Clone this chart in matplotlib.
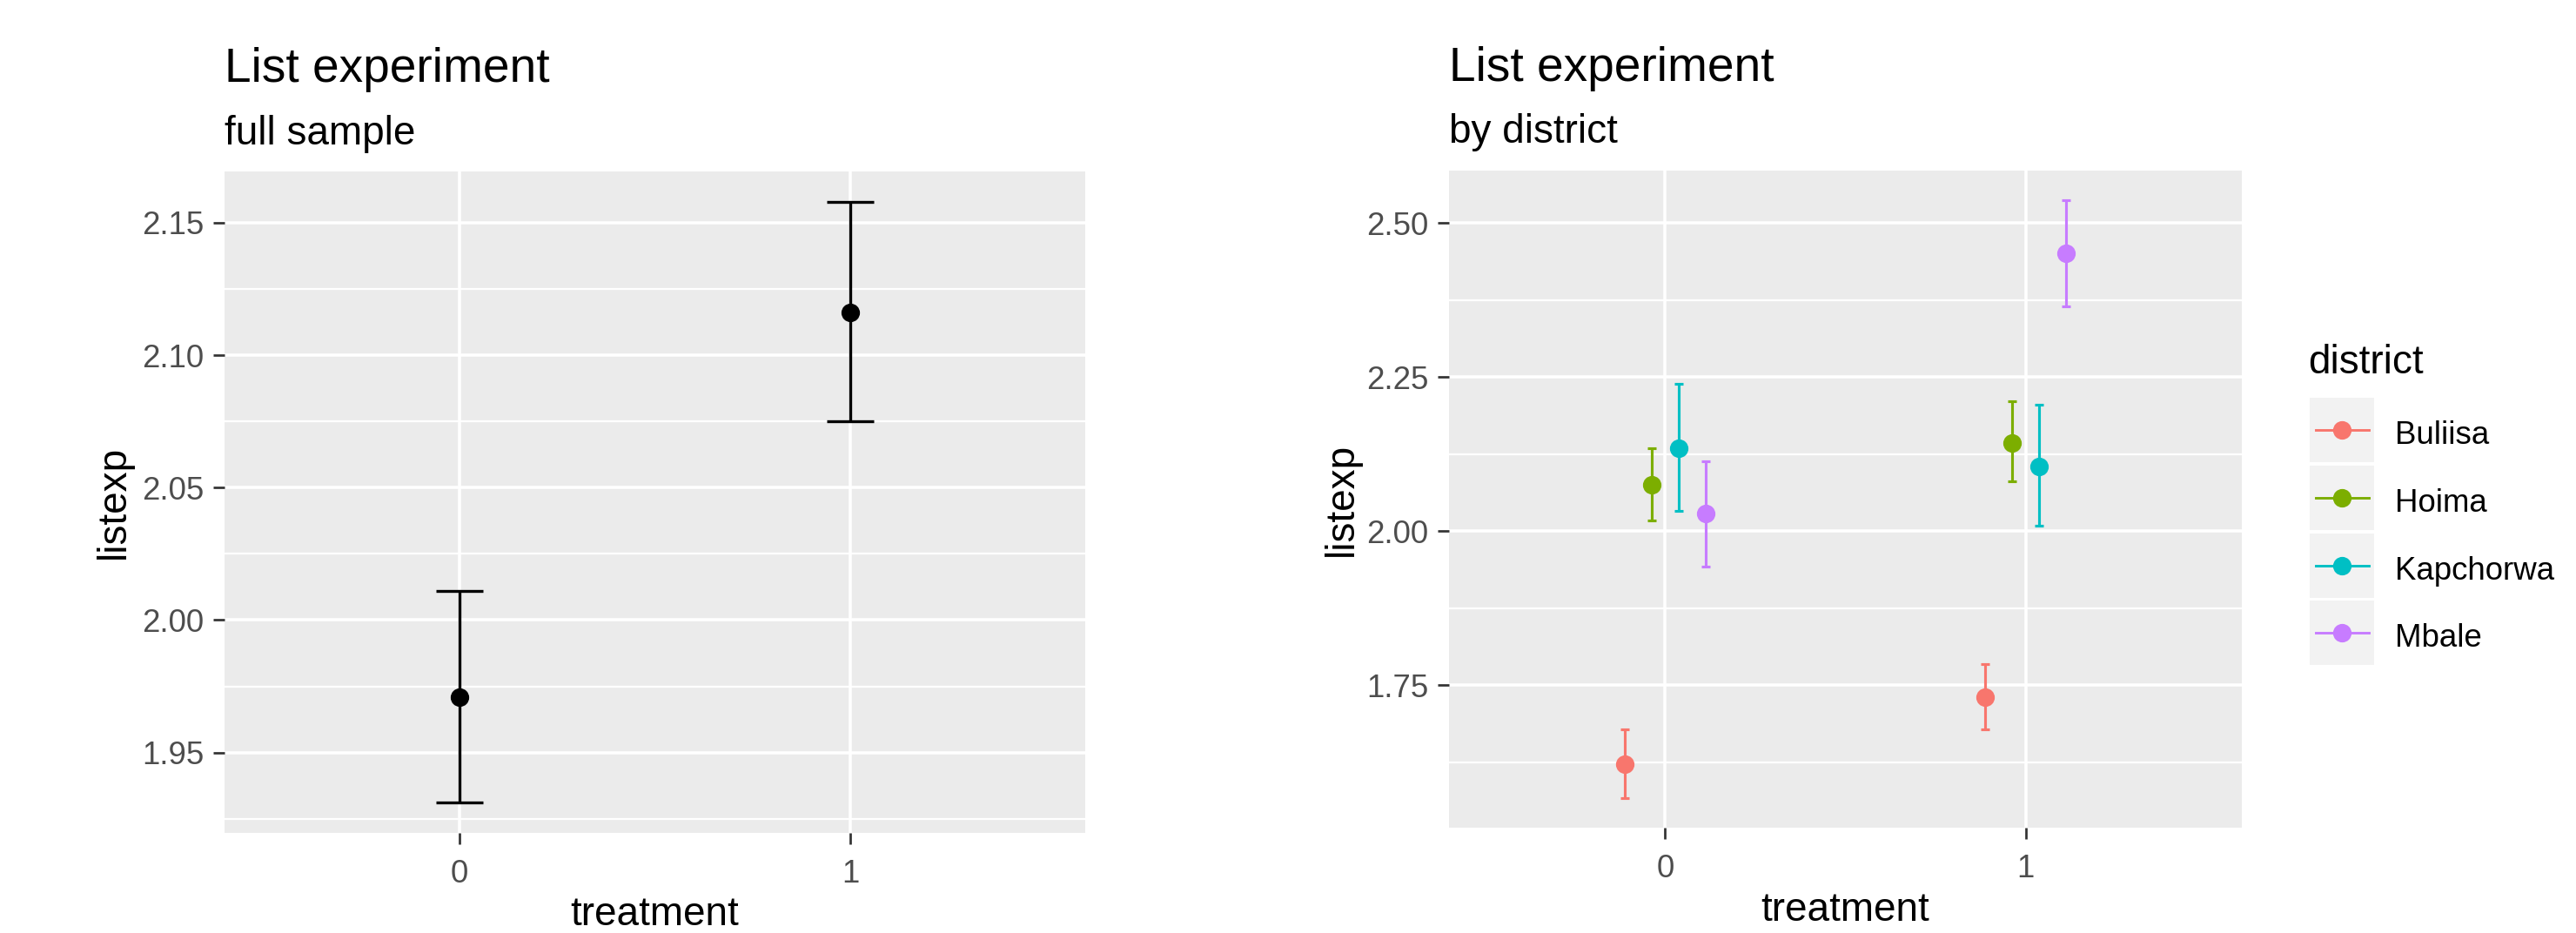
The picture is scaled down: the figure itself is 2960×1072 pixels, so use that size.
import numpy as np
import matplotlib
matplotlib.use("Agg")
import matplotlib.pyplot as plt
from matplotlib.lines import Line2D
from matplotlib.patches import Rectangle

plt.rcParams['font.family'] = ['Liberation Sans', 'DejaVu Sans']

# --------------------------
# Data: full sample
# --------------------------
treatment = [0, 1]
treatment_labels = ["0", "1"]
full_mean = [1.971, 2.116]
full_lower = [1.931, 2.075]
full_upper = [2.011, 2.158]

# --------------------------
# Data: by district (one value per district, treatment 0 / 1)
# --------------------------
districts = ["Buliisa", "Hoima", "Kapchorwa", "Mbale"]
district_colors = ["#F8766D", "#7CAE00", "#00BFC4", "#C77CFF"]
mean_t0 = [1.621, 2.076, 2.134, 2.028]
lower_t0 = [1.567, 2.018, 2.033, 1.942]
upper_t0 = [1.678, 2.134, 2.239, 2.114]
mean_t1 = [1.730, 2.143, 2.105, 2.451]
lower_t1 = [1.678, 2.081, 2.009, 2.365]
upper_t1 = [1.784, 2.211, 2.206, 2.537]

# --------------------------
# Figure geometry (pixels of the 2960x1072 output)
# --------------------------
W, H = 2960, 1072
DPI = 300


def fx(px):
    return px / W


def fy(py):
    return 1 - py / H


fig = plt.figure(figsize=(W / DPI, H / DPI), dpi=DPI)
fig.patch.set_facecolor("white")

ax1 = fig.add_axes([fx(258), fy(957), (1247 - 258) / W, (957 - 197) / H])
ax2 = fig.add_axes([fx(1665), fy(951), (2576 - 1665) / W, (951 - 196) / H])


def style_axes(ax, lo, hi, step):
    # ggplot-like limits: data range expanded by 5 %
    pad = 0.05 * (hi - lo)
    ax.set_ylim(lo - pad, hi + pad)
    ax.set_xlim(-0.6, 1.6)
    majors = np.arange(np.ceil((lo - pad) / step) * step, hi + pad, step)
    minors = np.arange(majors[0] - step / 2, hi + pad, step)
    minors = minors[(minors > lo - pad) & (minors < hi + pad)]
    ax.set_yticks(majors)
    ax.set_yticks(minors, minor=True)
    ax.set_yticklabels([f"{v:.2f}" for v in majors])
    ax.set_xticks(treatment)
    ax.set_xticklabels(treatment_labels)
    ax.set_facecolor("#EBEBEB")
    for s in ax.spines.values():
        s.set_visible(False)
    ax.set_axisbelow(True)
    ax.grid(which="major", color="white", lw=0.85)
    ax.grid(which="minor", axis="y", color="white", lw=0.55)
    ax.tick_params(which="major", length=3.1, width=0.65, color="#333333",
                   labelcolor="#4D4D4D", labelsize=8.8)
    ax.tick_params(which="minor", length=0)
    ax.tick_params(axis="y", pad=2.6)
    ax.tick_params(axis="x", pad=4.0)


# --------------------------
# Left panel: full sample
# --------------------------
fm = np.array(full_mean)
ax1.errorbar(treatment, fm, yerr=[fm - np.array(full_lower), np.array(full_upper) - fm],
             fmt="o", color="black", ms=4.1, elinewidth=0.8, capsize=6.4, capthick=0.8)
style_axes(ax1, min(full_lower), max(full_upper), 0.05)

# --------------------------
# Right panel: by district (dodged)
# --------------------------
means = np.array([mean_t0, mean_t1])
lowers = np.array([lower_t0, lower_t1])
uppers = np.array([upper_t0, upper_t1])
dodge = 0.3 / len(districts)
for i, (name, col) in enumerate(zip(districts, district_colors)):
    xs = np.array(treatment) + (i - (len(districts) - 1) / 2) * dodge
    m = means[:, i]
    ax2.errorbar(xs, m, yerr=[m - lowers[:, i], uppers[:, i] - m],
                 fmt="o", color=col, ms=4.1, elinewidth=0.75, capsize=1.15, capthick=0.75)
style_axes(ax2, lowers.min(), uppers.max(), 0.25)

# --------------------------
# Titles and axis titles
# --------------------------
fig.text(fx(258), fy(94), "List experiment", fontsize=13.2, va="baseline")
fig.text(fx(258), fy(166), "full sample", fontsize=11, va="baseline")
fig.text(fx(1665), fy(93), "List experiment", fontsize=13.2, va="baseline")
fig.text(fx(1665), fy(164), "by district", fontsize=11, va="baseline")

fig.text(fx(752), fy(1063), "treatment", fontsize=11, ha="center", va="baseline")
fig.text(fx(2120), fy(1058), "treatment", fontsize=11, ha="center", va="baseline")
fig.text(fx(131), fy(577), "listexp", fontsize=11, rotation=90, ha="center", va="center")
fig.text(fx(1542), fy(574), "listexp", fontsize=11, rotation=90, ha="center", va="center")

# --------------------------
# Legend
# --------------------------
fig.text(fx(2652), fy(429), "district", fontsize=11, va="baseline")
for i, (name, col) in enumerate(zip(districts, district_colors)):
    top = 457 + i * 77.8
    cy = top + 37
    fig.patches.append(Rectangle((fx(2654), fy(top + 74)), 74 / W, 74 / H,
                                 transform=fig.transFigure, fc="#F2F2F2", ec="none"))
    fig.lines.append(Line2D([fx(2661), fx(2722)], [fy(cy), fy(cy)], color=col, lw=0.7,
                            transform=fig.transFigure))
    fig.lines.append(Line2D([fx(2691)], [fy(cy)], marker="o", ms=4.1, color=col, lw=0,
                            transform=fig.transFigure))
    fig.text(fx(2752), fy(top + 53), name, fontsize=8.8, va="baseline")

fig.savefig("out.png", dpi=DPI)
